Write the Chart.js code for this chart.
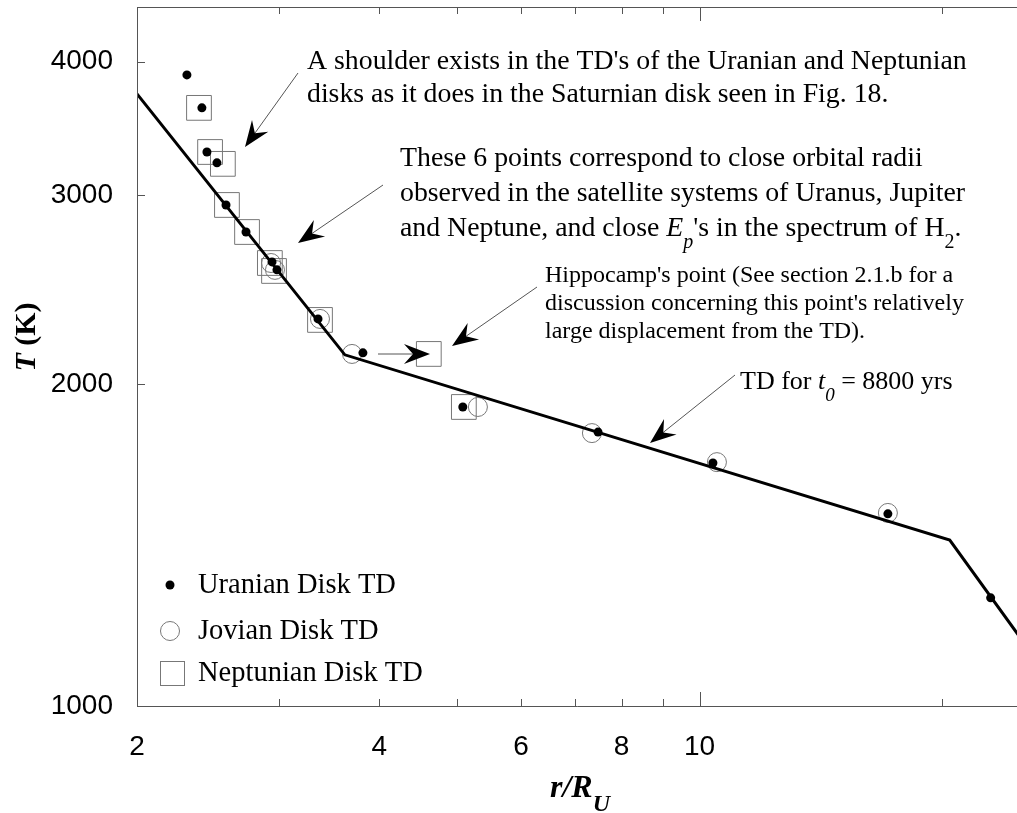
<!DOCTYPE html>
<html>
<head>
<meta charset="utf-8">
<script src="https://cdn.jsdelivr.net/npm/chart.js@4.4.1/dist/chart.umd.min.js"></script>
<style>
  html, body { margin: 0; padding: 0; background: #fff; }
  canvas { display: block; }
</style>
</head>
<body>
<canvas id="myChart" width="1017" height="813"></canvas>
<script>
'use strict';

// values: r/R_U and T (K)
const uranianR = [2.307, 2.408, 2.443, 2.514, 2.580, 2.732, 2.943, 2.985, 3.357, 3.817, 5.08, 7.48, 10.39, 17.14, 23.0];
const uranianT = [3888, 3622, 3294, 3218, 2939, 2773, 2600, 2556, 2300, 2138, 1903, 1803, 1687, 1512, 1262];

const jovianR = [2.935, 2.968, 3.376, 3.700, 5.304, 7.35, 10.51, 17.14];
const jovianT = [2594, 2556, 2300, 2133, 1903, 1799, 1690, 1515];

const neptunianR = [2.388, 2.465, 2.557, 2.587, 2.740, 2.925, 2.960, 3.376, 4.609, 5.095];
const neptunianT = [3622, 3294, 3211, 2939, 2773, 2594, 2550, 2295, 2133, 1903];

// the TD line (t0 = 8800 yrs)
const tdR = [2, 3.625, 20.46, 25];
const tdT = [3733, 2129, 1429, 1160];

const xTicks = [2, 3, 4, 5, 6, 7, 8, 9, 10, 20];
const xLabels = [2, 4, 6, 8, 10];
const yTicks = [1000, 2000, 3000, 4000];

let chartCanvas = document.getElementById('myChart');
const serif = '"Liberation Serif", "Times New Roman", serif';
const sans = '"Liberation Sans", Arial, sans-serif';

function toPoints(xs, ys) {
  return xs.map((x, i) => ({ x: x, y: ys[i] }));
}

// draws text pieces one after the other (for subscripts / italics)
function drawRich(ctx, x, y, parts) {
  for (const p of parts) {
    ctx.font = p.font;
    ctx.fillText(p.t, x, y + (p.dy || 0));
    x += ctx.measureText(p.t).width;
  }
}

function arrow(ctx, x1, y1, x2, y2) {
  const a = Math.atan2(y2 - y1, x2 - x1);
  ctx.strokeStyle = '#555';
  ctx.lineWidth = 1;
  ctx.beginPath();
  ctx.moveTo(x1, y1);
  ctx.lineTo(x2 - 12 * Math.cos(a), y2 - 12 * Math.sin(a));
  ctx.stroke();
  ctx.save();
  ctx.translate(x2, y2);
  ctx.rotate(a);
  ctx.fillStyle = '#000';
  ctx.beginPath();
  ctx.moveTo(0, 0);
  ctx.lineTo(-26, -10);
  ctx.lineTo(-17, 0);
  ctx.lineTo(-26, 10);
  ctx.closePath();
  ctx.fill();
  ctx.restore();
}

// no extra room for edge labels, the plot box is fixed
function noPadding(scale) {
  scale.paddingTop = 0;
  scale.paddingBottom = 0;
  scale.paddingLeft = 0;
  scale.paddingRight = 0;
}

const framePlugin = {
  id: 'frame',
  afterDraw(chart) {
    const ctx = chart.ctx;
    const area = chart.chartArea;
    const xs = chart.scales.x;
    const ys = chart.scales.y;
    ctx.save();

    // spines
    ctx.strokeStyle = '#555';
    ctx.lineWidth = 1;
    ctx.beginPath();
    ctx.moveTo(area.left + 0.5, area.top + 0.5);
    ctx.lineTo(area.left + 0.5, area.bottom + 0.5);
    ctx.lineTo(area.right, area.bottom + 0.5);
    ctx.moveTo(area.left + 0.5, area.top + 0.5);
    ctx.lineTo(area.right, area.top + 0.5);
    ctx.stroke();

    // inward ticks
    ctx.beginPath();
    for (const v of xTicks) {
      const px = Math.round(xs.getPixelForValue(v)) + 0.5;
      const len = v === 10 ? 14 : 7;
      ctx.moveTo(px, area.bottom);
      ctx.lineTo(px, area.bottom - len);
      ctx.moveTo(px, area.top);
      ctx.lineTo(px, area.top + len);
    }
    for (const v of yTicks) {
      const py = Math.round(ys.getPixelForValue(v)) + 0.5;
      ctx.moveTo(area.left, py);
      ctx.lineTo(area.left + 8, py);
    }
    ctx.stroke();

    // axis titles
    ctx.fillStyle = '#000';
    ctx.textBaseline = 'alphabetic';
    ctx.textAlign = 'left';
    drawRich(ctx, 550, 797, [
      { t: 'r/R', font: 'italic bold 32px ' + serif },
      { t: 'U', font: 'italic bold 24px ' + serif, dy: 14 }
    ]);
    ctx.save();
    ctx.translate(35, 337);
    ctx.rotate(-Math.PI / 2);
    ctx.font = 'italic bold 30px ' + serif;
    const w1 = ctx.measureText('T').width;
    ctx.font = 'bold 30px ' + serif;
    const w2 = ctx.measureText(' (K)').width;
    drawRich(ctx, -(w1 + w2) / 2, 0, [
      { t: 'T', font: 'italic bold 30px ' + serif },
      { t: ' (K)', font: 'bold 30px ' + serif }
    ]);
    ctx.restore();

    // notes
    const big = '27.8px ' + serif;
    const bigIt = 'italic 27.8px ' + serif;
    ctx.font = big;
    ctx.fillText('A shoulder exists in the TD\'s of the Uranian and Neptunian', 307, 69);
    ctx.fillText('disks as it does in the Saturnian disk seen in Fig. 18.', 307, 102);
    ctx.fillText('These 6 points correspond to close orbital radii', 400, 166);
    ctx.fillText('observed in the satellite systems of Uranus, Jupiter', 400, 201);
    drawRich(ctx, 400, 236, [
      { t: 'and Neptune, and close ', font: big },
      { t: 'E', font: bigIt },
      { t: 'p', font: 'italic 20px ' + serif, dy: 12 },
      { t: '\'s in the spectrum of H', font: big },
      { t: '2', font: '20px ' + serif, dy: 12 },
      { t: '.', font: big }
    ]);
    ctx.font = '24px ' + serif;
    ctx.fillText('Hippocamp\'s point (See section 2.1.b for a', 545, 282);
    ctx.fillText('discussion concerning this point\'s relatively', 545, 310);
    ctx.fillText('large displacement from the TD).', 545, 338);
    drawRich(ctx, 740, 389, [
      { t: 'TD for ', font: '26px ' + serif },
      { t: 't', font: 'italic 26px ' + serif },
      { t: '0', font: 'italic 19px ' + serif, dy: 12 },
      { t: ' = 8800 yrs', font: '26px ' + serif }
    ]);

    arrow(ctx, 298, 73, 245, 147);
    arrow(ctx, 383, 185, 298, 243);
    arrow(ctx, 537, 287, 452, 346);
    arrow(ctx, 378, 354, 430, 354);
    arrow(ctx, 735, 375, 650, 443);

    // legend
    ctx.fillStyle = '#000';
    ctx.beginPath();
    ctx.arc(170, 585, 4.5, 0, Math.PI * 2);
    ctx.fill();
    ctx.strokeStyle = '#777';
    ctx.beginPath();
    ctx.arc(170, 631, 9.5, 0, Math.PI * 2);
    ctx.stroke();
    ctx.strokeRect(160.5, 661.5, 24, 24);
    ctx.font = '28.5px ' + serif;
    ctx.textBaseline = 'middle';
    ctx.fillText('Uranian Disk TD', 198, 586);
    ctx.fillText('Jovian Disk TD', 198, 632);
    ctx.fillText('Neptunian Disk TD', 198, 674);
    ctx.restore();
  }
};

new Chart(chartCanvas, {
  type: 'scatter',
  data: {
    datasets: [{
      label: 'Uranian Disk TD',
      data: toPoints(uranianR, uranianT),
      pointStyle: 'circle',
      pointRadius: 4.5,
      backgroundColor: '#000',
      borderColor: '#000',
      borderWidth: 0,
      order: 0
    }, {
      label: 'TD',
      data: toPoints(tdR, tdT),
      showLine: true,
      borderColor: '#000',
      borderWidth: 3,
      pointRadius: 0,
      order: 1
    }, {
      label: 'Jovian Disk TD',
      data: toPoints(jovianR, jovianT),
      pointStyle: 'circle',
      pointRadius: 9.5,
      backgroundColor: 'rgba(255,255,255,0)',
      borderColor: '#777',
      borderWidth: 1,
      order: 2
    }, {
      label: 'Neptunian Disk TD',
      data: toPoints(neptunianR, neptunianT),
      pointStyle: 'rect',
      pointRadius: 17.5,
      backgroundColor: 'rgba(255,255,255,0)',
      borderColor: '#777',
      borderWidth: 1,
      order: 3
    }]
  },
  options: {
    responsive: false,
    animation: false,
    devicePixelRatio: 1,
    layout: { autoPadding: false, padding: { top: 7, left: 0, right: 0, bottom: 0 } },
    plugins: {
      legend: { display: false },
      tooltip: { enabled: false }
    },
    scales: {
      x: {
        type: 'logarithmic',
        min: 2,
        max: 24.8,
        afterBuildTicks: (scale) => { scale.ticks = xTicks.map(v => ({ value: v })); },
        afterFit: (scale) => { scale.height = 107; noPadding(scale); },
        grid: { display: false },
        border: { display: false },
        ticks: {
          autoSkip: false,
          maxRotation: 0,
          padding: 16,
          color: '#000',
          font: { family: sans, size: 28 },
          callback: (v) => xLabels.includes(v) ? String(v) : ''
        }
      },
      y: {
        type: 'logarithmic',
        min: 1000,
        max: 4500,
        afterBuildTicks: (scale) => { scale.ticks = yTicks.map(v => ({ value: v })); },
        afterFit: (scale) => { scale.width = 137; noPadding(scale); },
        grid: { display: false },
        border: { display: false },
        ticks: {
          padding: 16,
          color: '#000',
          font: { family: sans, size: 28 },
          callback: (v) => String(v)
        }
      }
    }
  },
  plugins: [framePlugin]
});
</script>
</body>
</html>
